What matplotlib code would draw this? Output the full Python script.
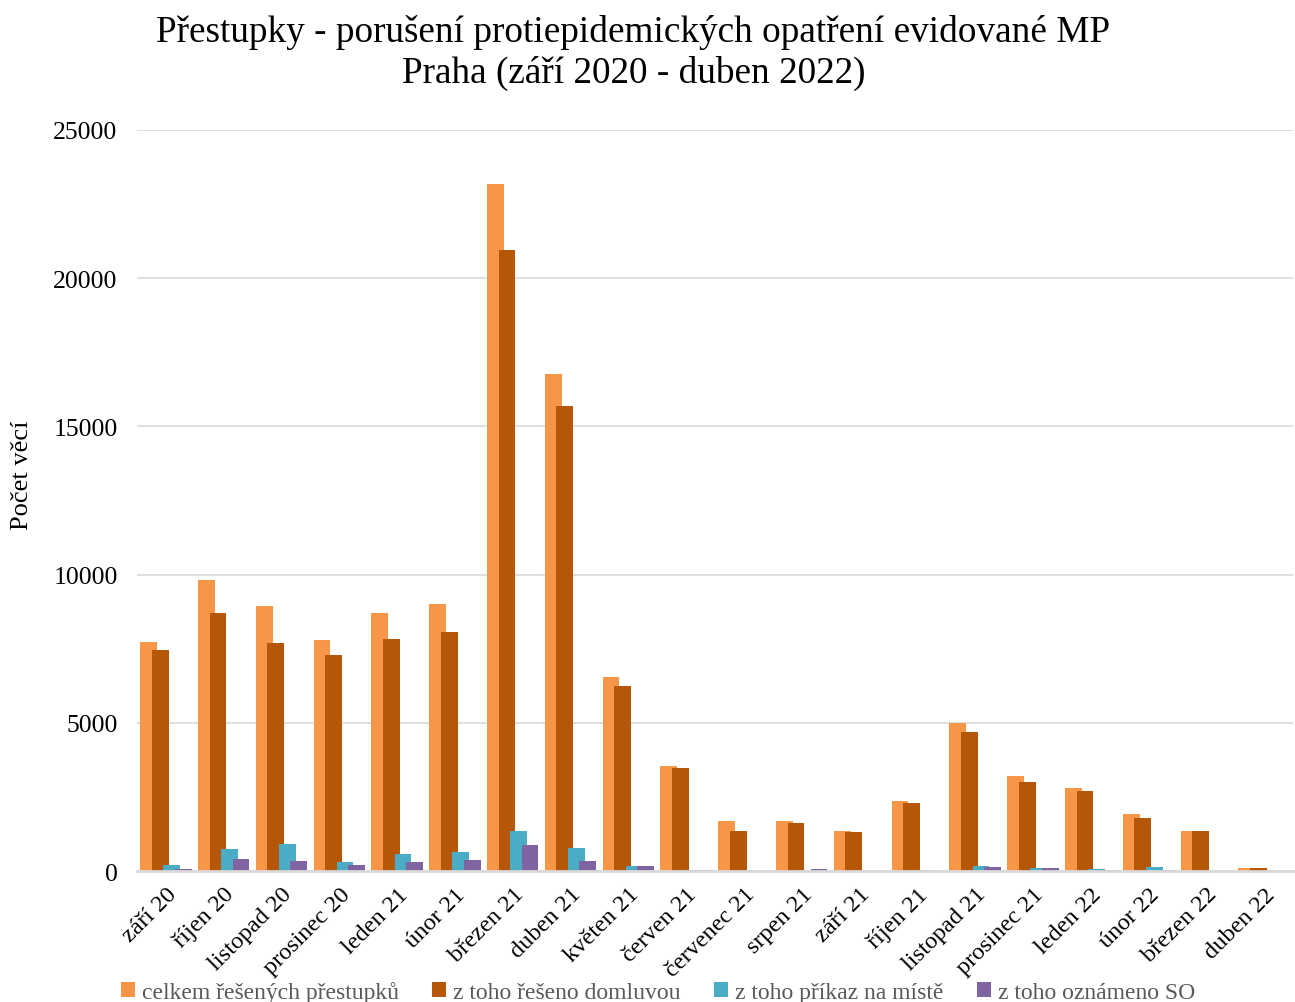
import matplotlib
matplotlib.use("Agg")
import matplotlib.pyplot as plt
import numpy as np

months = ["září 20", "říjen 20", "listopad 20", "prosinec 20", "leden 21", "únor 21",
          "březen 21", "duben 21", "květen 21", "červen 21", "červenec 21", "srpen 21",
          "září 21", "říjen 21", "listopad 21", "prosinec 21", "leden 22", "únor 22",
          "březen 22", "duben 22"]
celkem = [7730, 9820, 8940, 7790, 8700, 9010, 23180, 16770, 6550, 3540, 1690, 1690,
          1350, 2360, 4990, 3200, 2800, 1920, 1350, 100]
domluvou = [7460, 8700, 7690, 7290, 7830, 8060, 20950, 15690, 6240, 3470, 1350, 1620,
            1320, 2290, 4690, 3000, 2700, 1790, 1350, 100]
prikaz = [200, 740, 910, 300, 570, 640, 1350, 780, 170, 20, 0, 0,
          0, 20, 170, 100, 80, 135, 0, 0]
oznameno = [60, 400, 340, 200, 300, 370, 880, 340, 170, 50, 0, 60,
            0, 0, 135, 100, 50, 30, 0, 0]
series_names = ["celkem řešených přestupků", "z toho řešeno domluvou",
                "z toho příkaz na místě", "z toho oznámeno SO"]
colors = ["#F79646", "#B65708", "#4BACC6", "#8064A2"]

plt.rcParams['font.family'] = ['Liberation Serif', 'DejaVu Serif']

fig = plt.figure(figsize=(12.95, 10.03), dpi=100)
ax = fig.add_axes([0.1058, 0.1306, 0.8927, 0.7388])

x = np.arange(len(months))
width = 0.29
step = 0.2
data = [celkem, domluvou, prikaz, oznameno]
for i, (vals, name, c) in enumerate(zip(data, series_names, colors)):
    ax.bar(x + (i - 1.5) * step, vals, width=width, color=c, label=name,
           zorder=2 + i, linewidth=0)

ax.set_xlim(-0.5, len(months) - 0.5)
ax.set_ylim(0, 25000)
ax.set_yticks([0, 5000, 10000, 15000, 20000, 25000])
ax.yaxis.grid(True, color="#D9D9D9", linewidth=1.2, zorder=0)
ax.set_axisbelow(True)
for s in ["top", "right", "left"]:
    ax.spines[s].set_visible(False)
ax.spines["bottom"].set_color("#D9D9D9")
ax.spines["bottom"].set_linewidth(2)
ax.spines["bottom"].set_zorder(10)
ax.tick_params(axis="both", length=0)
ax.tick_params(axis="y", pad=14, labelsize=18.5)
ax.set_xticks(x)
ax.set_xticklabels(months, rotation=45, ha="right", rotation_mode="anchor")
ax.tick_params(axis="x", pad=9, labelsize=17.5)

fig.text(22 / 1295, 1 - 475 / 1003, "Počet věcí", rotation=90, ha="center", va="center",
         fontsize=19)

fig.text(0.489, 0.985, "Přestupky - porušení protiepidemických opatření evidované MP\nPraha (září 2020 - duben 2022)",
         ha="center", va="top", fontsize=26.8, linespacing=1.2)

leg = fig.legend(loc="lower center", bbox_to_anchor=(0.508, -0.022), ncol=4, frameon=False,
                 fontsize=17, handlelength=0.6, handleheight=0.6, handletextpad=0.3,
                 columnspacing=1.4, labelcolor="#595959")

fig.savefig("out.png", dpi=100)
